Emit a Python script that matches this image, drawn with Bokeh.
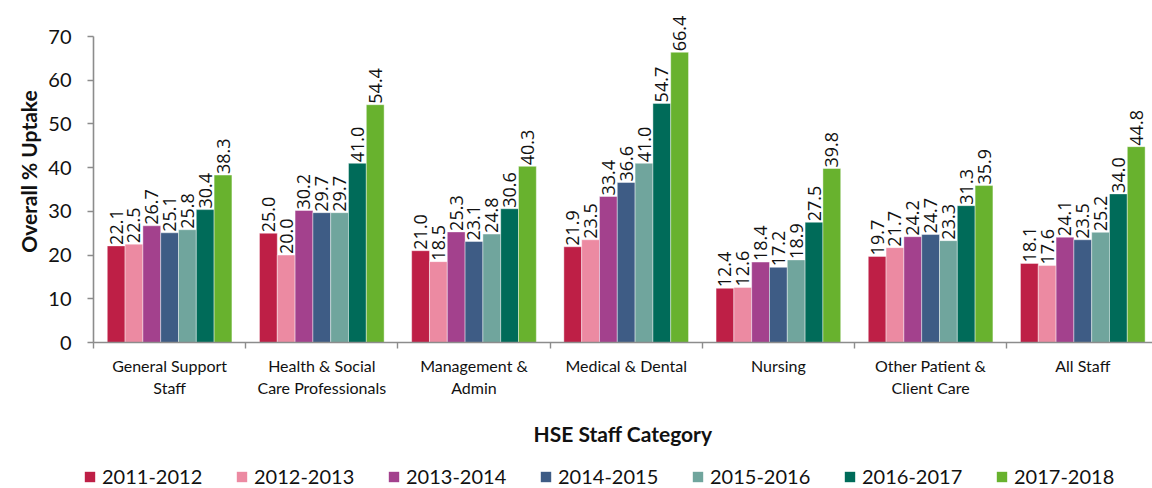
import numpy as np
from bokeh.plotting import figure
from bokeh.layouts import column, row
from bokeh.models import ColumnDataSource, Range1d, FixedTicker, Legend, LegendItem
from bokeh.core.properties import value
from bokeh.embed import file_html
from bokeh.resources import INLINE

categories = ["General Support\nStaff", "Health & Social\nCare Professionals", "Management &\nAdmin",
              "Medical & Dental", "Nursing", "Other Patient &\nClient Care", "All Staff"]
series = ["2011-2012", "2012-2013", "2013-2014", "2014-2015", "2015-2016", "2016-2017", "2017-2018"]
colors = ["#BE1F46", "#EC8AA2", "#A3418D", "#3E5C85", "#70A59D", "#006B59", "#68B22E"]

v2011 = [22.1, 25.0, 21.0, 21.9, 12.4, 19.7, 18.1]
v2012 = [22.5, 20.0, 18.5, 23.5, 12.6, 21.7, 17.6]
v2013 = [26.7, 30.2, 25.3, 33.4, 18.4, 24.2, 24.1]
v2014 = [25.1, 29.7, 23.1, 36.6, 17.2, 24.7, 23.5]
v2015 = [25.8, 29.7, 24.8, 41.0, 18.9, 23.3, 25.2]
v2016 = [30.4, 41.0, 30.6, 54.7, 27.5, 31.3, 34.0]
v2017 = [38.3, 54.4, 40.3, 66.4, 39.8, 35.9, 44.8]
values = [v2011, v2012, v2013, v2014, v2015, v2016, v2017]

y_ticks = [0, 10, 20, 30, 40, 50, 60, 70]

W = 1152
H1, H2 = 458, 30
p = figure(width=W, height=H1, output_backend="svg", toolbar_location=None,
           x_range=Range1d(0, 6.958), y_range=Range1d(0, 78.24),
           min_border_left=93, min_border_right=0, min_border_top=0, min_border_bottom=116)
p.outline_line_color = None
p.xgrid.grid_line_color = None
p.ygrid.grid_line_color = None
p.background_fill_color = "white"
p.border_fill_color = "white"

bar_w = 0.117
n = len(series)
centers = np.arange(len(categories)) + 0.5
for j, (name, col, vals) in enumerate(zip(series, colors, values)):
    xs = centers + (j - (n - 1) / 2) * bar_w
    src = ColumnDataSource(dict(x=xs, top=vals, lab=[f"{v:.1f}" for v in vals]))
    p.vbar(x="x", top="top", width=bar_w, bottom=0, source=src, fill_color=col,
           line_color="white", line_width=0.7, line_alpha=0.6)
    p.text(x="x", y="top", text="lab", source=src, angle=np.pi / 2, text_align="left",
           text_baseline="middle", y_offset=-1, text_font=value("Open Sans"),
           text_font_size="18px", text_color="#111111")

axis_col = "#8c8c8c"
ya = p.yaxis[0]
ya.ticker = FixedTicker(ticks=y_ticks)
ya.bounds = (0, 70)
ya.axis_line_color = axis_col
ya.axis_line_width = 1.6
ya.major_tick_line_color = axis_col
ya.major_tick_line_width = 1.4
ya.major_tick_out = 6
ya.major_tick_in = 0
ya.minor_tick_line_color = None
ya.major_label_text_font = "Lato"
ya.major_label_text_font_size = "20px"
ya.major_label_text_color = "#111111"
ya.major_label_standoff = 16
ya.axis_label = "Overall % Uptake"
ya.axis_label_text_font = "Lato"
ya.axis_label_text_font_style = "bold"
ya.axis_label_text_font_size = "21px"
ya.axis_label_text_color = "#111111"
ya.axis_label_standoff = 4

xa = p.xaxis[0]
xa.ticker = FixedTicker(ticks=list(centers), minor_ticks=list(range(len(categories) + 1)))
xa.major_label_overrides = {float(c): lab for c, lab in zip(centers, categories)}
xa.axis_line_color = axis_col
xa.axis_line_width = 1.6
xa.major_tick_line_color = None
xa.minor_tick_line_color = axis_col
xa.minor_tick_line_width = 1.4
xa.minor_tick_out = 6
xa.minor_tick_in = 0
xa.major_label_text_font = "Lato"
xa.major_label_text_font_size = "16px"
xa.major_label_text_color = "#111111"
xa.major_label_standoff = 7
xa.axis_label = "HSE Staff Category"
xa.axis_label_text_font = "Lato"
xa.axis_label_text_font_style = "bold"
xa.axis_label_text_font_size = "21px"
xa.axis_label_text_color = "#111111"
xa.axis_label_standoff = 21

# legend strip: zero-height swatch renderers, only the legend is visible
p2 = figure(width=W, height=H2, output_backend="svg", toolbar_location=None,
            x_range=Range1d(0, 1), y_range=Range1d(0, 1), x_axis_type=None, y_axis_type=None,
            min_border_left=0, min_border_right=0, min_border_top=0, min_border_bottom=0)
p2.outline_line_color = None
p2.xgrid.grid_line_color = None
p2.ygrid.grid_line_color = None
p2.background_fill_color = "white"
p2.border_fill_color = "white"
items = []
for name, col in zip(series, colors):
    r = p2.vbar(x=[0.5], top=[0], bottom=0, width=0.0, fill_color=col, line_color=None)
    items.append(LegendItem(label=name, renderers=[r]))
legend = Legend(items=items, orientation="horizontal", location=(83, 0),
                border_line_color=None, background_fill_alpha=0, padding=0, margin=0,
                spacing=12, glyph_width=13, glyph_height=13, label_standoff=6,
                label_width=121, label_height=20,
                label_text_font="Lato", label_text_font_size="20px", label_text_color="#111111")
p2.add_layout(legend, "center")

layout = column(p, row(p2), spacing=0)
open("out.html", "w").write(file_html(layout, INLINE))
